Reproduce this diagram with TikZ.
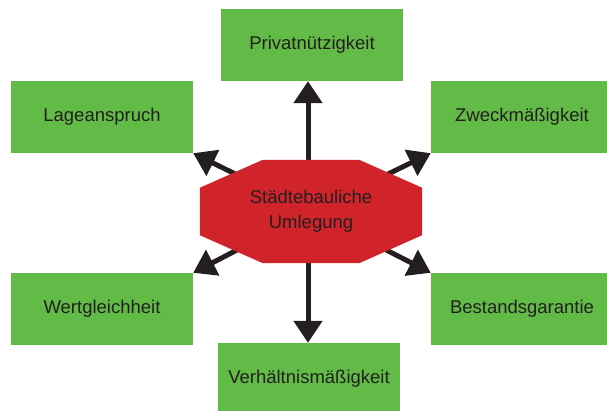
\documentclass[tikz,border=0pt]{standalone}
\usepackage{fontspec}
\setmainfont{Liberation Sans}
\usetikzlibrary{arrows.meta,backgrounds,calc}
\definecolor{boxgreen}{HTML}{62BB46}
\definecolor{octred}{HTML}{D1232A}
\definecolor{ink}{HTML}{231F20}
\begin{document}
\begin{tikzpicture}[x=1pt,y=-1pt,
  box/.style={fill=boxgreen, minimum width=182pt, minimum height=72pt, inner sep=0pt,
    text=ink, font=\fontsize{18.5}{22}\selectfont},
  arr/.style={draw=ink, line width=5pt, -{Triangle[width=28pt,length=22pt]}}]
\useasboundingbox (0,0) rectangle (607,411);
\node[box] (priv) at (312,45) {Privatnützigkeit};
\node[box] (lage) at (102,117) {Lageanspruch};
\node[box] (zweck) at (522,117) {Zweckmäßigkeit};
\node[box] (wert) at (102,309) {Wertgleichheit};
\node[box] (best) at (522,309) {Bestandsgarantie};
\node[box] (verh) at (309,379) {Verhältnismäßigkeit};
\node[minimum width=222pt, minimum height=103pt, inner sep=0pt, align=center,
  text=ink, font=\fontsize{18.5}{25}\selectfont] (oct) at (311,211.5) {Städtebauliche\\Umlegung};
\begin{scope}[on background layer]
\draw[arr] ([xshift=-3pt]oct.center) -- ([xshift=-4pt]priv.south);
\draw[arr] (oct.center) -- (lage.south east);
\draw[arr] (oct.center) -- (zweck.south west);
\draw[arr] (oct.center) -- (wert.north east);
\draw[arr] (oct.center) -- (best.north west);
\draw[arr] ([xshift=-3pt]oct.center) -- ([xshift=-1pt]verh.north);
\fill[octred] ($(oct.north west)+(63,0)$) -- ($(oct.north east)+(-63,0)$)
  -- ($(oct.north east)+(0,28)$) -- ($(oct.south east)+(0,-28)$)
  -- ($(oct.south east)+(-63,0)$) -- ($(oct.south west)+(63,0)$)
  -- ($(oct.south west)+(0,-28)$) -- ($(oct.north west)+(0,28)$) -- cycle;
\end{scope}
\end{tikzpicture}
\end{document}
